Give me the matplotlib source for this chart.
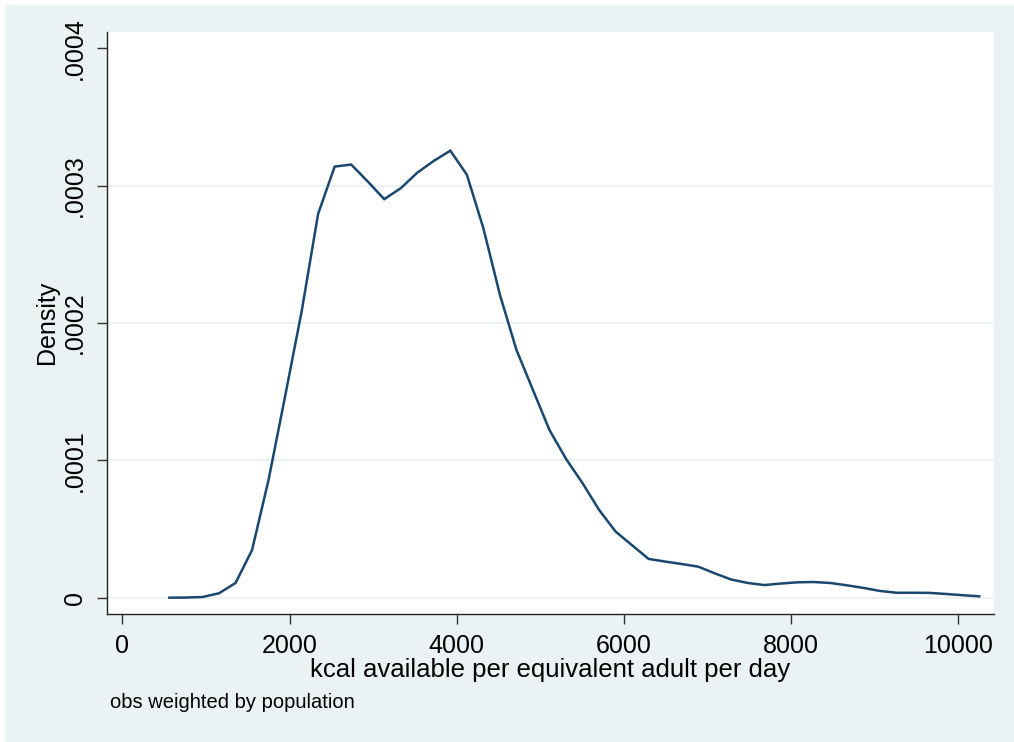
import matplotlib
matplotlib.use("Agg")
import matplotlib.pyplot as plt
from matplotlib.patches import Rectangle

# kcal evaluation points (x) and estimated kernel density (y)
kcal = [563, 761, 958, 1156, 1354, 1552, 1749, 1947, 2145, 2342,
        2540, 2738, 2935, 3133, 3331, 3529, 3726, 3924, 4122, 4319,
        4517, 4715, 4912, 5110, 5308, 5506, 5703, 5901, 6099, 6296,
        6494, 6692, 6889, 7087, 7285, 7483, 7680, 7878, 8076, 8273,
        8471, 8669, 8866, 9064, 9262, 9460, 9657, 9855, 10053, 10250]
density = [0.000e-4, 0.001e-4, 0.005e-4, 0.032e-4, 0.107e-4, 0.347e-4, 0.857e-4, 1.466e-4, 2.084e-4, 2.794e-4,
           3.138e-4, 3.153e-4, 3.030e-4, 2.901e-4, 2.981e-4, 3.094e-4, 3.180e-4, 3.254e-4, 3.078e-4, 2.689e-4,
           2.204e-4, 1.803e-4, 1.512e-4, 1.220e-4, 1.010e-4, 0.833e-4, 0.639e-4, 0.481e-4, 0.381e-4, 0.282e-4,
           0.263e-4, 0.245e-4, 0.226e-4, 0.177e-4, 0.132e-4, 0.107e-4, 0.092e-4, 0.103e-4, 0.112e-4, 0.114e-4,
           0.107e-4, 0.090e-4, 0.071e-4, 0.049e-4, 0.036e-4, 0.036e-4, 0.035e-4, 0.027e-4, 0.018e-4, 0.010e-4]

xticks = [0, 2000, 4000, 6000, 8000, 10000]
xtick_labels = ["0", "2000", "4000", "6000", "8000", "10000"]
yticks = [0, 0.0001, 0.0002, 0.0003, 0.0004]
ytick_labels = ["0", ".0001", ".0002", ".0003", ".0004"]
grid_levels = [0, 0.0001, 0.0002, 0.0003]

xlabel = "kcal available per equivalent adult per day"
ylabel = "Density"
note = "obs weighted by population"

BG = "#EAF2F3"
LINE = "#1A476F"

plt.rcParams["font.family"] = ["Liberation Sans", "DejaVu Sans"]

W, H = 1014, 742
fig = plt.figure(figsize=(W / 100, H / 100), dpi=100, facecolor="white")
fig.patches.append(Rectangle((5 / W, 0), 1 - 5 / W, 1 - 5 / H, transform=fig.transFigure,
                             facecolor=BG, edgecolor="none", zorder=-10))

left, right, top, bottom = 106.7, 994, 31.7, 614
ax = fig.add_axes([left / W, 1 - bottom / H, (right - left) / W, (bottom - top) / H])
ax.set_facecolor("white")

for g in grid_levels:
    ax.axhline(g, color=BG, lw=1.5, zorder=1)

ax.plot(kcal, density, color=LINE, lw=1.8, zorder=3, solid_joinstyle="miter")

ax.set_xlim(-187, 10427)
ax.set_ylim(-0.00001187, 0.000412)

for s in ["top", "right"]:
    ax.spines[s].set_visible(False)
for s in ["left", "bottom"]:
    ax.spines[s].set_color("#222222")
    ax.spines[s].set_linewidth(1.0)

ax.set_xticks(xticks, xtick_labels, fontsize=18)
ax.set_yticks(yticks, ytick_labels, fontsize=18, rotation=90, va="center")
ax.tick_params(axis="both", direction="out", length=7.2, width=1.0, color="#333333",
               labelcolor="black", pad=7.0)

ax.set_xlabel(xlabel, fontsize=18.5, va="baseline")
ax.xaxis.set_label_coords(0.5, -(677 - bottom) / (bottom - top))
ax.set_ylabel(ylabel, fontsize=18)
ax.yaxis.set_label_coords((59 - left) / (right - left), 0.5)

fig.text(110 / W, 1 - 708 / H, note, fontsize=14.5, ha="left", va="baseline", color="black")

fig.savefig("out.png", dpi=100, facecolor=fig.get_facecolor())
